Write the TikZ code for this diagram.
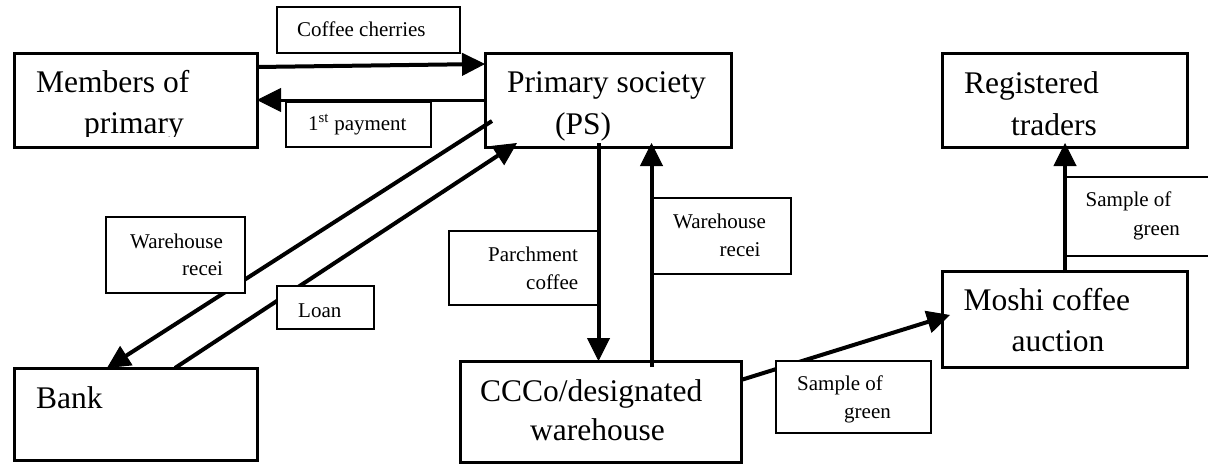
\documentclass[tikz,border=0pt]{standalone}
\usepackage{fontspec}
\setmainfont{Liberation Serif}
\usetikzlibrary{arrows.meta,calc}
\tikzset{
  bigbox/.style={draw, line width=3pt, inner sep=0pt, outer sep=0pt},
  lblbox/.style={draw, line width=1.5pt, fill=white, inner sep=0pt, outer sep=0pt},
  bigtxt/.style={anchor=base west, inner sep=0pt, font=\fontsize{31.5}{38}\selectfont},
  smalltxt/.style={anchor=base west, inner sep=0pt, font=\fontsize{21}{25}\selectfont},
  flow/.style={line width=4pt, -{Triangle[length=23pt,width=23pt,line width=1pt]}},
  thinflow/.style={line width=3pt, -{Triangle[length=24pt,width=24pt,line width=1pt]}}
}
\begin{document}
\begin{tikzpicture}[x=1pt,y=-1pt]
\useasboundingbox (0,0) rectangle (1208,466);
\fill[white] (0,0) rectangle (1208,466);

% heading fragment cut off by the top edge
\node[anchor=base west, inner sep=0pt, font=\fontsize{28}{30}\selectfont\bfseries] (headfrag) at (64,-7.5) {g};

% main boxes
\node[bigbox, minimum width=243pt, minimum height=94pt] (members) at (135.5,100) {};
\node[bigbox, minimum width=246pt, minimum height=94pt] (ps) at (608,100) {};
\node[bigbox, minimum width=245pt, minimum height=94pt] (reg) at (1064.5,100) {};
\node[bigbox, minimum width=245pt, minimum height=96pt] (moshi) at (1064.5,319) {};
\node[bigbox, minimum width=281pt, minimum height=101pt] (ccco) at (600.5,411.5) {};
\node[bigbox, minimum width=243pt, minimum height=92pt] (bank) at (135.5,414) {};

% connectors lying under label boxes
\draw[flow] ($(ps.south west)+(7,-26)$) -- ($(bank.north west)+(93,0)$);
\draw[flow] ($(bank.north west)+(161,0)$) -- ($(ps.south west)+(32,-4)$);
\draw[flow] ($(ccco.north east)+(0,19)$) -- ($(moshi.north west)+(8,44)$);

% label boxes
\node[lblbox, minimum width=183pt, minimum height=46pt] (lcoffee) at (368.5,30) {};
\node[lblbox, minimum width=145pt, minimum height=45pt] (lpay) at (358.5,124.5) {};
\node[lblbox, minimum width=139pt, minimum height=76pt] (lwhl) at (175.5,255) {};
\node[lblbox, minimum width=97pt, minimum height=43pt] (lloan) at (325.5,307.5) {};
\node[lblbox, minimum width=149pt, minimum height=74pt] (lparch) at (523.5,268) {};
\node[lblbox, minimum width=139pt, minimum height=76pt] (lwhr) at (721.5,236) {};
\node[lblbox, minimum width=155pt, minimum height=72pt] (lsgb) at (853.5,397) {};
\node[lblbox, minimum width=150pt, minimum height=79pt] (lsgr) at (1140,216.5) {};

% connectors on top of label boxes
\draw[flow] ($(members.north east)+(0,14)$) -- ($(ps.north west)+(0,11)$);
\draw[thinflow] (ps.west) -- (members.east);
\draw[flow] ($(ps.south west)+(113.5,-4)$) -- ($(ccco.north west)+(138.5,0)$);
\draw[flow] ($(ccco.north west)+(191.5,6)$) -- ($(ps.south west)+(166.5,-4)$);
\draw[flow] ($(moshi.north west)+(123,2)$) -- ($(reg.south west)+(123,-4)$);

% texts of the main boxes
\begin{scope}
\clip (14,53) rectangle (257,136);
\node[bigtxt] (members-t2) at (84,133) {primary};
\end{scope}
\node[bigtxt] (members-t1) at (36,92.5) {Members of};
\node[bigtxt] (ps-t1) at (507,92.5) {Primary society};
\node[bigtxt] (ps-t2) at (555,134) {(PS)};
\node[bigtxt] (reg-t1) at (964,93) {Registered};
\node[bigtxt] (reg-t2) at (1011,135) {traders};
\node[bigtxt] (moshi-t1) at (963.5,310) {Moshi coffee};
\node[bigtxt] (moshi-t2) at (1011.5,351) {auction};
\node[bigtxt] (ccco-t1) at (480,401) {CCCo/designated};
\node[bigtxt] (ccco-t2) at (530,440) {warehouse};
\node[bigtxt] (bank-t1) at (36,408) {Bank};

% texts of the label boxes
\node[smalltxt] (lcoffee-t) at (297,36.5) {Coffee cherries};
\node[smalltxt] (lpay-t) at (308,130.5) {1\textsuperscript{st} payment};
\node[smalltxt] (lwhl-t1) at (130,248) {Warehouse};
\node[smalltxt] (lwhl-t2) at (182,275) {recei};
\node[smalltxt] (lloan-t) at (298,317) {Loan};
\node[smalltxt] (lparch-t1) at (488,261) {Parchment};
\node[smalltxt] (lparch-t2) at (526,289) {coffee};
\node[smalltxt] (lwhr-t1) at (673,228) {Warehouse};
\node[smalltxt] (lwhr-t2) at (719.5,256.5) {recei};
\node[smalltxt] (lsgb-t1) at (797,390) {Sample of};
\node[smalltxt] (lsgb-t2) at (844,418) {green};
\node[smalltxt] (lsgr-t1) at (1085.5,206.5) {Sample of};
\node[smalltxt] (lsgr-t2) at (1133,235) {green};
\end{tikzpicture}
\end{document}
